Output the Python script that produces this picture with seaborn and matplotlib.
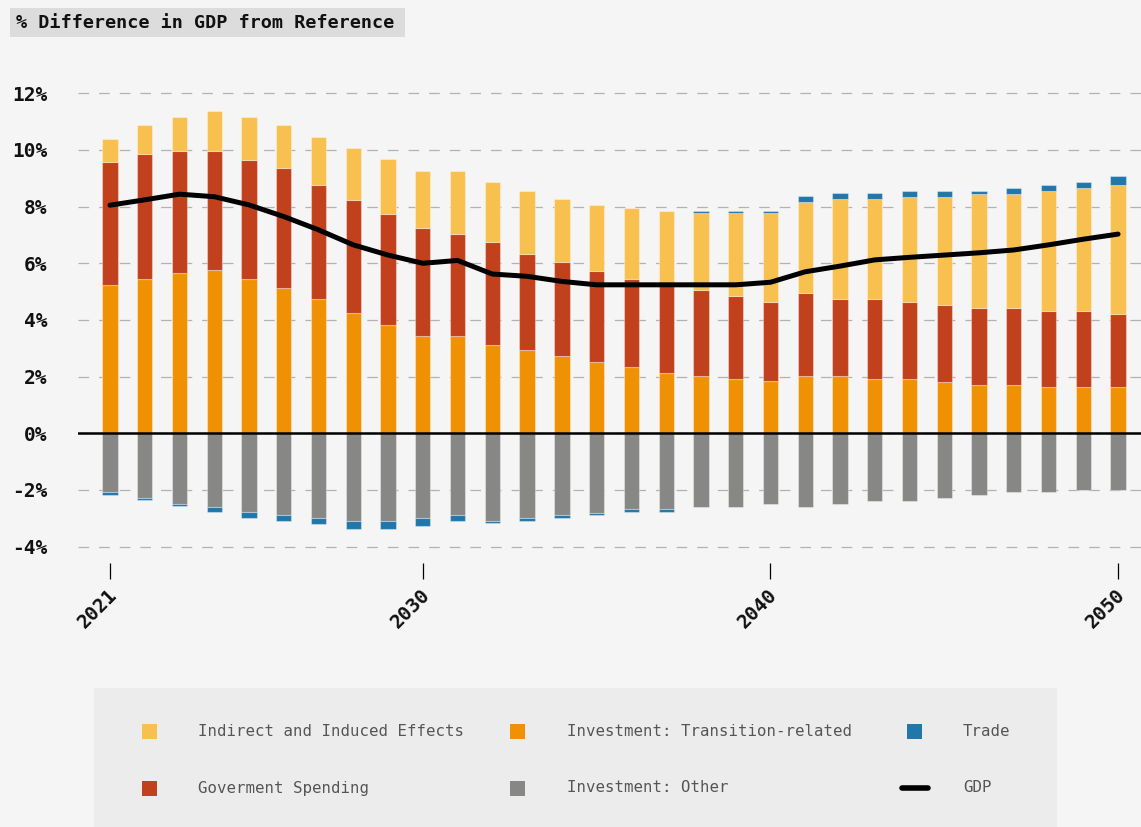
import numpy as np
import pandas as pd
import matplotlib
matplotlib.use("Agg")
import matplotlib.pyplot as plt
import matplotlib.transforms as mtransforms
from matplotlib.patches import Rectangle
from matplotlib.lines import Line2D
import seaborn as sns

# ---------------- data ----------------
years = list(range(2021, 2051))
transition = [5.23, 5.45, 5.66, 5.75, 5.45, 5.14, 4.74, 4.25, 3.82, 3.43,
              3.43, 3.13, 2.93, 2.73, 2.53, 2.33, 2.13, 2.02, 1.93, 1.83,
              2.02, 2.02, 1.92, 1.92, 1.82, 1.72, 1.72, 1.62, 1.62, 1.62]
government = [4.33, 4.42, 4.30, 4.21, 4.21, 4.22, 4.01, 4.00, 3.92, 3.83,
              3.61, 3.61, 3.40, 3.31, 3.20, 3.10, 3.07, 3.02, 2.91, 2.81,
              2.92, 2.71, 2.81, 2.71, 2.71, 2.70, 2.70, 2.70, 2.70, 2.60]
indirect = [0.82, 1.01, 1.22, 1.42, 1.52, 1.52, 1.72, 1.82, 1.93, 2.00,
            2.22, 2.12, 2.22, 2.22, 2.33, 2.52, 2.66, 2.73, 2.93, 3.13,
            3.22, 3.53, 3.53, 3.72, 3.82, 4.04, 4.04, 4.24, 4.34, 4.54]
trade = [-0.09, -0.09, -0.09, -0.19, -0.20, -0.20, -0.20, -0.29, -0.29, -0.29,
         -0.20, -0.09, -0.09, -0.10, -0.09, -0.10, -0.10, 0.09, 0.09, 0.09,
         0.22, 0.21, 0.21, 0.21, 0.21, 0.10, 0.20, 0.20, 0.20, 0.31]
other = [-2.08, -2.28, -2.48, -2.59, -2.78, -2.88, -2.99, -3.08, -3.08, -2.99,
         -2.88, -3.08, -2.99, -2.88, -2.80, -2.69, -2.69, -2.59, -2.59, -2.49,
         -2.59, -2.49, -2.39, -2.39, -2.29, -2.19, -2.09, -2.09, -1.99, -1.99]
gdp = [8.05, 8.24, 8.44, 8.35, 8.06, 7.65, 7.18, 6.65, 6.29, 6.00,
       6.10, 5.62, 5.54, 5.36, 5.24, 5.24, 5.24, 5.24, 5.24, 5.33,
       5.70, 5.90, 6.12, 6.21, 6.29, 6.37, 6.47, 6.65, 6.85, 7.03]
year_ticks = [2021, 2030, 2040, 2050]
y_ticks = [-4, -2, 0, 2, 4, 6, 8, 10, 12]

labels = {
    "indirect": "Indirect and Induced Effects",
    "transition": "Investment: Transition-related",
    "trade": "Trade",
    "government": "Goverment Spending",
    "other": "Investment: Other",
    "gdp": "GDP",
}
colors = {
    "indirect": "#f8c04f",
    "transition": "#f09104",
    "trade": "#2277aa",
    "government": "#c2411d",
    "other": "#878785",
    "gdp": "#000000",
}

df = pd.DataFrame(dict(year=years, transition=transition, government=government,
                       indirect=indirect, trade=trade, other=other, gdp=gdp))
df["gov_bottom"] = df["transition"]
df["ind_bottom"] = df["transition"] + df["government"]
pos_top = df["transition"] + df["government"] + df["indirect"]
df["trade_bottom"] = np.where(df["trade"] > 0, pos_top, df["other"])

# ---------------- figure ----------------
sns.set_theme(style="white")
plt.rcParams["font.family"] = ["DejaVu Sans Mono", "DejaVu Sans"]
W, H = 1141, 827
BG = "#f5f5f5"
fig = plt.figure(figsize=(W / 100, H / 100), dpi=100, facecolor=BG)
ax = fig.add_axes([78 / W, 1 - 563 / H, (W - 78) / W, (563 - 80) / H])
ax.set_facecolor(BG)

bar_kw = dict(native_scale=True, width=0.44, errorbar=None, saturation=1,
              edgecolor=(1, 1, 1, 0.35), linewidth=0.8, ax=ax, zorder=2)
sns.barplot(data=df, x="year", y="transition", color=colors["transition"], **bar_kw)
sns.barplot(data=df, x="year", y="government", bottom=df["gov_bottom"].values,
            color=colors["government"], **bar_kw)
sns.barplot(data=df, x="year", y="indirect", bottom=df["ind_bottom"].values,
            color=colors["indirect"], **bar_kw)
sns.barplot(data=df, x="year", y="other", color=colors["other"], **bar_kw)
sns.barplot(data=df, x="year", y="trade", bottom=df["trade_bottom"].values,
            color=colors["trade"], **bar_kw)

sns.lineplot(data=df, x="year", y="gdp", color="black", linewidth=3.6,
             solid_capstyle="round", solid_joinstyle="round", ax=ax, zorder=6)

ax.axhline(0, color="black", linewidth=1.8, zorder=5)

ax.set_xlim(2020.08, 2050.66)
ax.set_ylim(-4.58, 12.47)
ax.set_xlabel("")
ax.set_ylabel("")
for s in ax.spines.values():
    s.set_visible(False)

ax.set_yticks(y_ticks)
ax.set_yticklabels([f"{v}%" for v in y_ticks], fontsize=14, fontweight="bold",
                   color="#111111")
ax.yaxis.grid(True, color="#b2b2b2", linewidth=0.9, linestyle=(0, (8.5, 8)))
ax.xaxis.grid(False)
ax.set_axisbelow(True)
ax.tick_params(axis="y", left=False, length=0, pad=22)

ax.set_xticks(year_ticks)
ax.set_xticklabels([str(y) for y in year_ticks], fontsize=14, fontweight="bold",
                   color="#111111", rotation=45, ha="right", va="center",
                   rotation_mode="anchor")
ax.tick_params(axis="x", bottom=True, length=11.5, width=0.9, color="black",
               direction="out", pad=9)
offset = mtransforms.ScaledTranslation(4 / 100, 0, fig.dpi_scale_trans)
for lab in ax.get_xticklabels():
    lab.set_transform(lab.get_transform() + offset)

# ---------------- title ----------------
def fx(x):
    return x / W

def fy(y):
    return 1 - y / H

fig.add_artist(Rectangle((fx(10), fy(37)), fx(405) - fx(10), fy(8) - fy(37),
                         transform=fig.transFigure, facecolor="#dcdcdc",
                         edgecolor="none", zorder=1))
fig.text(fx(16), fy(22.5), "% Difference in GDP from Reference", fontsize=13.3,
         fontweight="bold", color="#111111", va="center", ha="left", zorder=2)

# ---------------- legend ----------------
fig.add_artist(Rectangle((fx(94), fy(827)), fx(1057) - fx(94), fy(688) - fy(827),
                         transform=fig.transFigure, facecolor="#ececec",
                         edgecolor="none", zorder=1))
legend_items = [
    ("indirect", 142, 198, 731),
    ("transition", 510, 567, 731),
    ("trade", 907, 963, 731),
    ("government", 142, 198, 788),
    ("other", 510, 567, 788),
    ("gdp", 899, 963, 788),
]
for key, mx, tx, cy in legend_items:
    if key == "gdp":
        fig.add_artist(Line2D([fx(mx + 3), fx(mx + 29)], [fy(cy), fy(cy)],
                              transform=fig.transFigure, color="black",
                              linewidth=4, solid_capstyle="round", zorder=2))
    else:
        fig.add_artist(Rectangle((fx(mx), fy(cy + 7.5)), fx(15), 15 / H,
                                 transform=fig.transFigure, facecolor=colors[key],
                                 edgecolor="none", zorder=2))
    fig.text(fx(tx), fy(cy), labels[key], fontsize=11.3, color="#555555",
             va="center", ha="left", zorder=2)

fig.savefig("out.png", dpi=100, facecolor=BG)
